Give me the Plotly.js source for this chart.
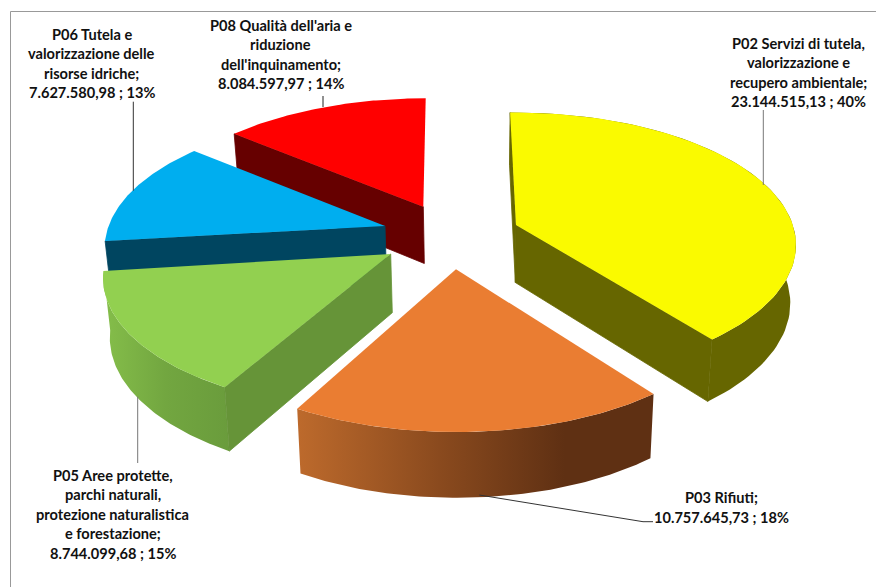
<!DOCTYPE html>
<html>
<head>
<meta charset="utf-8">
<script src="https://cdn.plot.ly/plotly-3.0.1.min.js"></script>
<style>html,body{margin:0;padding:0;background:#fff}#chart{width:876px;height:587px}</style>
</head>
<body>
<div id="chart"></div>
<script>
// ---- data ----
const categories = ["P02", "P03", "P05", "P06", "P08"];
const values = [23144515.13, 10757645.73, 8744099.68, 7627580.98, 8084597.97];
const nameLines = [
  ["P02 Servizi di tutela,", "valorizzazione e", "recupero ambientale;"],
  ["P03 Rifiuti;"],
  ["P05 Aree protette,", "parchi naturali,", "protezione naturalistica", "e forestazione;"],
  ["P06 Tutela e", "valorizzazione delle", "risorse idriche;"],
  ["P08 Qualità dell'aria e", "riduzione", "dell'inquinamento;"]
];

// ---- 3D-pie projection (layout only) ----
const rx = 281, ry = 132.5;
const ellipseCx = [515, 456.5, 384, 385.7, 425.7];
const ellipseCy = [245, 299.5, 278, 248, 230.8];
const apexX = [516, 456, 390.7, 385, 423.3];
const apexY = [225, 269.3, 254, 226, 206.7];
const warpDeg = [-1, -7.3, 5.4, 10, 6.9, 0];   // perspective warp at each slice boundary
const vanishX = 480, depthBase = 53, depthGrow = 0.04, depthBaseY = 112, shrinkX = 0.018;

// ---- styles ----
const topColors = ["#FAFA00", "#EA7D32", "#92D050", "#00AEEF", "#FF0000"];
const faceColors = ["#666600", "#8A4A1E", "#669438", "#004560", "#660000"];
const sideGradients = [null,
  [[0, "#BD6A2C"], [0.4, "#8A4A1E"], [0.75, "#5F3013"], [1, "#5F3013"]],
  [[0, "#85BE4A"], [0.5, "#72A640"], [1, "#6A9C3C"]], null, null];
const visibleFaces = [["side", "start", "end"], ["side"], ["side", "start"], ["start"], ["start"]];
const drawOrder = [4, 3, 2, 0, 1];

// ---- label and leader placement ----
const labelCx = [798, 721.7, 112.7, 91.7, 280.6];
const labelTop = [43.3, 497.7, 475, 34.3, 25];
const labelStep = 19.5;
const leaderX = [[763.3, 763.3], [479.3, 643, 653], [137.7, 137.7], [133.3, 133.3], [323, 323]];
const leaderY = [[110, 185], [495, 521.7, 521.7], [396.7, 463], [101.7, 190.7], [96, 107]];
const leaderColors = ["#777777", "#333333", "#777777", "#333333", "#222222"];

// ---- geometry from values ----
const total = values.reduce((a, b) => a + b, 0);
const boundaries = [0];
values.forEach(v => boundaries.push(boundaries[boundaries.length - 1] + v / total * 360));
const warped = boundaries.map((b, i) => b + warpDeg[i]);

function arc(i) {
  const n = 80, xs = [], ys = [];
  for (let k = 0; k <= n; k++) {
    const t = (warped[i] + (warped[i + 1] - warped[i]) * k / n) * Math.PI / 180;
    xs.push(ellipseCx[i] + rx * Math.sin(t));
    ys.push(ellipseCy[i] - ry * Math.cos(t));
  }
  return {xs, ys};
}
const downX = x => x - (x - vanishX) * shrinkX;
const downY = y => y + depthBase + (y - depthBaseY) * depthGrow;

function poly(xs, ys, color, gradient, edge) {
  const tr = {
    type: "scatter", mode: "lines", x: xs.concat(xs[0]), y: ys.concat(ys[0]),
    fill: "toself", fillcolor: color, line: {width: edge || 0, color: color},
    hoverinfo: "skip", showlegend: false
  };
  if (gradient) {
    tr.fillgradient = {type: "horizontal", colorscale: gradient,
      start: Math.min.apply(null, xs), stop: Math.max.apply(null, xs)};
  }
  return tr;
}

const traces = [];
drawOrder.forEach(i => {
  const a = arc(i), last = a.xs.length - 1;
  const ax = apexX[i], ay = apexY[i];
  visibleFaces[i].forEach(face => {
    if (face === "side") {
      traces.push(poly(
        a.xs.concat(a.xs.map(downX).reverse()),
        a.ys.concat(a.ys.map(downY).reverse()),
        faceColors[i], sideGradients[i], 0));
    } else {
      const ex = face === "start" ? a.xs[0] : a.xs[last];
      const ey = face === "start" ? a.ys[0] : a.ys[last];
      traces.push(poly([ex, ax, downX(ax), downX(ex)], [ey, ay, downY(ay), downY(ey)], faceColors[i], null, 0.8));
    }
  });
  traces.push(poly([ax].concat(a.xs), [ay].concat(a.ys), topColors[i]));
});

// ---- leaders ----
leaderX.forEach((lx, i) => traces.push({
  type: "scatter", mode: "lines", x: lx, y: leaderY[i],
  line: {width: 1, color: leaderColors[i]}, hoverinfo: "skip", showlegend: false
}));

// ---- labels ----
function money(v) {
  const p = v.toFixed(2).split(".");
  return p[0].replace(/\B(?=(\d{3})+(?!\d))/g, ".") + "," + p[1];
}
const annotations = [];
categories.forEach((c, i) => {
  const lines = nameLines[i].concat(money(values[i]) + " ; " + Math.round(values[i] / total * 100) + "%");
  lines.forEach((text, k) => annotations.push({
    x: labelCx[i], y: labelTop[i] + k * labelStep, xref: "x", yref: "y",
    text: text, showarrow: false, xanchor: "center", yanchor: "middle",
    font: {family: "Lato, 'Open Sans', sans-serif", size: 14.6, color: "#111111", weight: 700}
  }));
});

const layout = {
  width: 876, height: 587,
  margin: {l: 0, r: 0, t: 0, b: 0},
  paper_bgcolor: "#ffffff", plot_bgcolor: "#ffffff",
  showlegend: false,
  xaxis: {range: [0, 876], visible: false, fixedrange: true},
  yaxis: {range: [587, 0], visible: false, fixedrange: true},
  annotations: annotations,
  shapes: [
    {type: "line", xref: "x", yref: "y", x0: 10.5, x1: 10.5, y0: 11.5, y1: 587, line: {color: "#999999", width: 1}},
    {type: "line", xref: "x", yref: "y", x0: 10.5, x1: 876, y0: 11.5, y1: 11.5, line: {color: "#999999", width: 1}}
  ]
};
Plotly.newPlot("chart", traces, layout, {displayModeBar: false, staticPlot: true});
</script>
</body>
</html>
